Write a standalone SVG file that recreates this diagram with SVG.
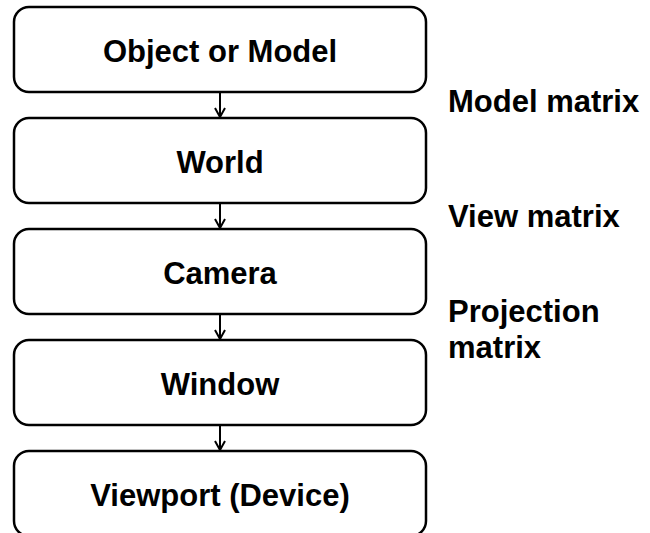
<svg xmlns="http://www.w3.org/2000/svg" width="650" height="533" viewBox="0 0 650 533">
<defs>
<style>
.box{fill:#fff;stroke:#000;stroke-width:2.5}
.t{font-family:"Liberation Sans",Arial,sans-serif;font-weight:bold;font-size:31px;fill:#000}
.c{text-anchor:middle}
.e{stroke:#000;stroke-width:2;fill:none}
</style>
<marker id="ah" viewBox="0 0 12 12" refX="10" refY="6" markerWidth="12" markerHeight="12" markerUnits="userSpaceOnUse" orient="auto">
<path d="M1,1 L10,6 L1,11" fill="none" stroke="#000" stroke-width="2"/>
</marker>
</defs>
<rect width="650" height="533" fill="#fff"/>
<g id="connectors">
<line class="e" x1="220" y1="92" x2="220" y2="117" marker-end="url(#ah)"/>
<line class="e" x1="220" y1="203" x2="220" y2="228" marker-end="url(#ah)"/>
<line class="e" x1="220" y1="314" x2="220" y2="339" marker-end="url(#ah)"/>
<line class="e" x1="220" y1="425" x2="220" y2="450" marker-end="url(#ah)"/>
</g>
<g id="object">
<rect class="box" x="14" y="7" width="412" height="85" rx="15"/>
<text class="t c" x="220" y="62">Object or Model</text>
</g>
<g id="world">
<rect class="box" x="14" y="118" width="412" height="85" rx="15"/>
<text class="t c" x="220" y="173">World</text>
</g>
<g id="camera">
<rect class="box" x="14" y="229" width="412" height="85" rx="15"/>
<text class="t c" x="220" y="284">Camera</text>
</g>
<g id="window">
<rect class="box" x="14" y="340" width="412" height="85" rx="15"/>
<text class="t c" x="220" y="395">Window</text>
</g>
<g id="viewport">
<rect class="box" x="14" y="451" width="412" height="85" rx="15"/>
<text class="t c" x="220" y="506">Viewport (Device)</text>
</g>
<g id="labels">
<text class="t" x="448" y="112">Model matrix</text>
<text class="t" x="448" y="227">View matrix</text>
<text class="t" x="448" y="322">Projection</text>
<text class="t" x="448" y="358">matrix</text>
</g>
</svg>
